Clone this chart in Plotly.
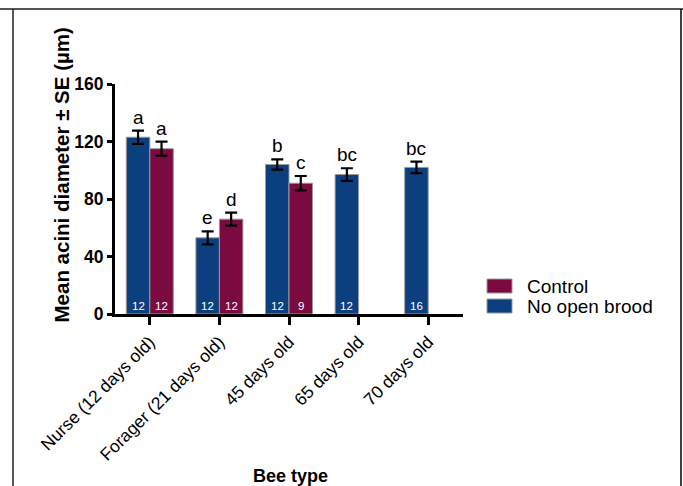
import plotly.graph_objects as go

# Bee groups on the x axis
categories = ["Nurse (12 days old)", "Forager (21 days old)", "45 days old",
              "65 days old", "70 days old"]

# Mean acini diameter (µm) and standard errors
no_brood_mean = [123, 53, 104, 97, 102]
no_brood_se = [4.6, 4.5, 3.5, 4.4, 4.0]
control_mean = [115, 66, 91, None, None]
control_se = [4.9, 4.5, 5.0, None, None]

# Sample sizes printed inside the bars
no_brood_n = ["12", "12", "12", "12", "16"]
control_n = ["12", "12", "9", None, None]

# Significance letters above the bars
no_brood_letters = ["a", "e", "b", "bc", "bc"]
control_letters = ["a", "d", "c", None, None]

BLUE = "#0B3F7E"
RED = "#7A0A3F"
FONT = "Liberation Sans, Arial, sans-serif"

# Plot-area geometry in pixels
W, H = 683, 486
L, R, T, B = 115, 220, 84, 172
PW, PH = W - L - R, H - T - B


def px_x(x):
    return (x - L) / PW


def px_y(y):
    return (H - B - y) / PH


fig = go.Figure()
fig.add_trace(go.Bar(
    x=categories, y=no_brood_mean, name="No open brood",
    marker=dict(color=BLUE, line=dict(color="#9a9a9a", width=1)),
    error_y=dict(type="data", array=no_brood_se, color="black", thickness=2.2, width=6),
))
fig.add_trace(go.Bar(
    x=categories, y=control_mean, name="Control",
    marker=dict(color=RED, line=dict(color="#9a9a9a", width=1)),
    error_y=dict(type="data", array=control_se, color="black", thickness=2.2, width=6),
))

bargap = 0.325
half = PW / len(categories) * (1 - bargap) / 4  # offset of each bar centre

annotations = []
for cat, m, se, let, n in zip(categories, no_brood_mean, no_brood_se, no_brood_letters, no_brood_n):
    annotations.append(dict(x=cat, y=m + se, text=let, xshift=-half, yshift=1,
                            yanchor="bottom", showarrow=False,
                            font=dict(size=19, color="black", family=FONT)))
    annotations.append(dict(x=cat, y=0, text=n, xshift=-half, yshift=0,
                            yanchor="bottom", showarrow=False,
                            font=dict(size=11.5, color="white", family=FONT)))
for cat, m, se, let, n in zip(categories, control_mean, control_se, control_letters, control_n):
    if m is None:
        continue
    annotations.append(dict(x=cat, y=m + se, text=let, xshift=half, yshift=1,
                            yanchor="bottom", showarrow=False,
                            font=dict(size=19, color="black", family=FONT)))
    annotations.append(dict(x=cat, y=0, text=n, xshift=half, yshift=0,
                            yanchor="bottom", showarrow=False,
                            font=dict(size=11.5, color="white", family=FONT)))

# Axis titles
annotations.append(dict(xref="paper", yref="paper", x=px_x(61), y=px_y(175.5),
                        text="<b>Mean acini diameter ± SE (µm)</b>", textangle=-90,
                        showarrow=False, xanchor="center", yanchor="middle",
                        font=dict(size=20.5, color="black", family=FONT)))
annotations.append(dict(xref="paper", yref="paper", x=px_x(290), y=px_y(476),
                        text="<b>Bee type</b>", showarrow=False,
                        xanchor="center", yanchor="middle",
                        font=dict(size=18, color="black", family=FONT)))

# Legend entries
legend_items = [("Control", RED, 286), ("No open brood", BLUE, 306)]
shapes = []
for label, col, yc in legend_items:
    shapes.append(dict(type="rect", xref="paper", yref="paper",
                       x0=px_x(487), x1=px_x(512), y0=px_y(yc - 7), y1=px_y(yc + 7),
                       fillcolor=col, line=dict(color="#9a9a9a", width=1)))
    annotations.append(dict(xref="paper", yref="paper", x=px_x(525), y=px_y(yc),
                            text=label, showarrow=False, xanchor="left", yanchor="middle",
                            font=dict(size=19, color="black", family=FONT)))

# Outer frame
shapes.append(dict(type="line", xref="paper", yref="paper",
                   x0=px_x(0), x1=px_x(683), y0=px_y(9), y1=px_y(9),
                   line=dict(color="#555555", width=2)))
shapes.append(dict(type="line", xref="paper", yref="paper",
                   x0=px_x(13), x1=px_x(13), y0=px_y(9), y1=px_y(490),
                   line=dict(color="#222222", width=1.5)))
shapes.append(dict(type="line", xref="paper", yref="paper",
                   x0=px_x(681), x1=px_x(681), y0=px_y(9), y1=px_y(490),
                   line=dict(color="black", width=1.5)))

fig.update_layout(
    width=W, height=H,
    margin=dict(l=L, r=R, t=T, b=B),
    paper_bgcolor="white", plot_bgcolor="white",
    barmode="group", bargap=bargap, bargroupgap=0,
    showlegend=False,
    font=dict(family=FONT, color="black"),
    annotations=annotations, shapes=shapes,
)
fig.update_xaxes(
    type="category", categoryorder="array", categoryarray=categories,
    range=[-0.5, len(categories) - 0.5],
    showline=True, linecolor="black", linewidth=3,
    ticks="outside", ticklen=8, tickwidth=3, tickcolor="black",
    tickangle=-45, tickfont=dict(size=17.5, family=FONT, color="black"),
    showgrid=False, zeroline=False,
)
fig.update_yaxes(
    range=[0, 160], tickvals=[0, 40, 80, 120, 160],
    ticktext=["<b>0</b>", "<b>40</b>", "<b>80</b>", "<b>120</b>", "<b>160</b>"],
    showline=True, linecolor="black", linewidth=3,
    ticks="outside", ticklen=5, tickwidth=3, tickcolor="black",
    tickfont=dict(size=17.5, family=FONT, color="black"),
    showgrid=False, zeroline=False,
)

fig.write_html("out.html")
